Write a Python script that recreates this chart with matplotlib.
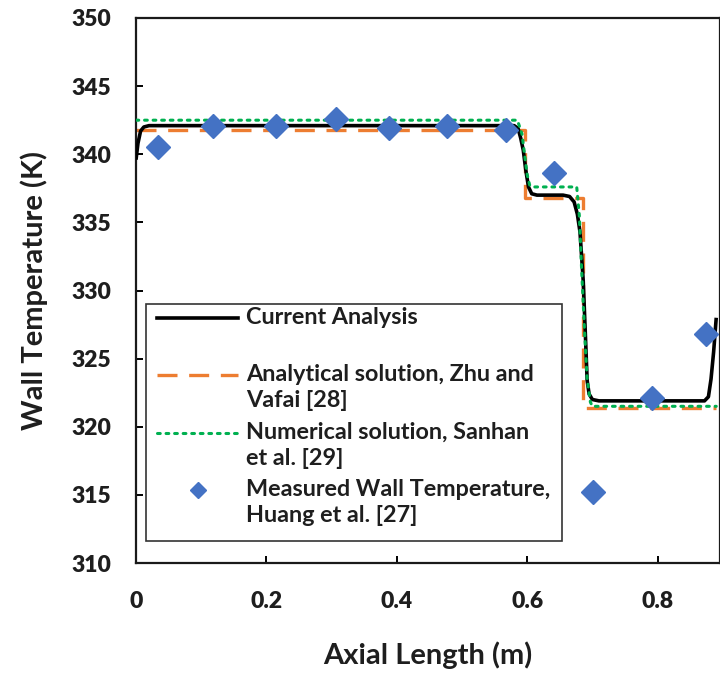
import matplotlib
matplotlib.use("Agg")
import matplotlib.pyplot as plt
from matplotlib.lines import Line2D
from matplotlib.patches import Rectangle

# Current analysis (wall temperature along the axial length)
cur_x = [0.000, 0.003, 0.007, 0.012, 0.020, 0.580, 0.586, 0.590, 0.594, 0.598,
         0.602, 0.607, 0.615, 0.655, 0.665, 0.672, 0.677, 0.681, 0.686, 0.689,
         0.692, 0.695, 0.700, 0.710, 0.872, 0.878, 0.882, 0.886, 0.890]
cur_t = [339.6, 340.8, 341.7, 342.0, 342.1, 342.1, 341.9, 341.2, 340.3, 338.8,
         337.6, 337.1, 337.0, 337.0, 336.9, 336.5, 335.6, 334.3, 330.7, 327.1,
         323.4, 322.4, 322.0, 321.9, 321.9, 322.2, 323.5, 325.5, 328.0]

# Analytical solution, Zhu and Vafai
ana_x = [0.000, 0.597, 0.597, 0.686, 0.686, 0.890]
ana_t = [341.8, 341.8, 336.8, 336.8, 321.4, 321.4]

# Numerical solution, Sanhan et al.
num_x = [0.000, 0.585, 0.592, 0.596, 0.600, 0.604, 0.610, 0.676, 0.680, 0.684,
         0.688, 0.692, 0.697, 0.700, 0.890]
num_t = [342.5, 342.5, 341.5, 340.0, 338.5, 337.7, 337.6, 337.6, 335.5, 331.0,
         327.0, 323.5, 321.8, 321.5, 321.5]

# Measured wall temperature, Huang et al.
meas_x = [0.034, 0.118, 0.215, 0.307, 0.388, 0.477, 0.567, 0.641, 0.701, 0.791, 0.874]
meas_t = [340.5, 342.1, 342.1, 342.6, 341.9, 342.1, 341.8, 338.6, 315.2, 322.1, 326.8]

x_ticks = [0, 0.2, 0.4, 0.6, 0.8]
x_tick_labels = ["0", "0.2", "0.4", "0.6", "0.8"]
y_ticks = [310, 315, 320, 325, 330, 335, 340, 345, 350]

labels = ["Current Analysis",
          "Analytical solution, Zhu and\nVafai [28]",
          "Numerical solution, Sanhan\net al. [29]",
          "Measured Wall Temperature,\nHuang et al. [27]"]

FONT = "Lato"
BLACK = "#000000"
ORANGE = "#ED7D31"
GREEN = "#00B050"
BLUE = "#4472C4"
TEXT = "#1e1e1e"

W, H = 720, 675
fig = plt.figure(figsize=(W / 100, H / 100), dpi=100)

x_left, x_right = 136, 719.5
y_top, y_bot = 18, 563
ax = fig.add_axes([x_left / W, (H - y_bot) / H, (x_right - x_left) / W, (y_bot - y_top) / H])

ax.plot(cur_x, cur_t, color=BLACK, lw=2.6, solid_capstyle="butt", zorder=3)
ax.plot(ana_x, ana_t, color=ORANGE, lw=2.4, dashes=(6, 3.5), zorder=2)
ax.plot(num_x, num_t, color=GREEN, lw=2.2, linestyle=(0, (0.9, 1.9)), dash_capstyle="round", zorder=4)
ax.plot(meas_x, meas_t, linestyle="none", marker="D", ms=12.5, color=BLUE, mec=BLUE, zorder=5)

ax.set_xlim(0, 0.895)
ax.set_ylim(310, 350)
ax.set_xticks(x_ticks)
ax.set_xticklabels(x_tick_labels)
ax.set_yticks(y_ticks)

for s in ax.spines.values():
    s.set_linewidth(1.6)
    s.set_color("#1a1a1a")

ax.tick_params(axis="both", direction="in", length=5, width=1.4, labelsize=16.5)
ax.tick_params(axis="y", pad=18)
ax.tick_params(axis="x", pad=20)
for lab in ax.get_xticklabels() + ax.get_yticklabels():
    lab.set_fontfamily(FONT)
    lab.set_fontweight("heavy")
    lab.set_color(TEXT)

ax.set_xlabel("Axial Length (m)", fontsize=21, fontfamily=FONT, fontweight="bold",
              color=TEXT, labelpad=21)
ax.set_ylabel("Wall Temperature (K)", fontsize=21, fontfamily=FONT, fontweight="bold",
              color=TEXT, labelpad=17)


# Legend drawn in figure pixel coordinates
def fx(px):
    return px / W


def fy(py):
    return (H - py) / H


box = Rectangle((fx(146), fy(541)), fx(562) - fx(146), fy(304) - fy(541),
                transform=fig.transFigure, facecolor="white", edgecolor="#333333",
                lw=1.2, zorder=10)
fig.patches.append(box)

handle_rows = [318, 375, 433, 490]
styles = [dict(color=BLACK, lw=2.6),
          dict(color=ORANGE, lw=2.4, dashes=(6, 3.5)),
          dict(color=GREEN, lw=2.2, linestyle=(0, (0.9, 1.9)), dash_capstyle="round")]
for row, st in zip(handle_rows[:3], styles):
    fig.lines.append(Line2D([fx(157), fx(238)], [fy(row), fy(row)],
                            transform=fig.transFigure, zorder=11, **st))
fig.lines.append(Line2D([fx(198)], [fy(490)], transform=fig.transFigure, marker="D",
                        ms=8.5, color=BLUE, linestyle="none", zorder=11))

for row, text in zip(handle_rows, labels):
    fig.text(fx(246), fy(row - 11), text, fontsize=16.8, fontfamily=FONT, fontweight="bold",
             color=TEXT, va="top", ha="left", linespacing=1.3, zorder=12)

fig.savefig("out.png", dpi=100, facecolor="white")
